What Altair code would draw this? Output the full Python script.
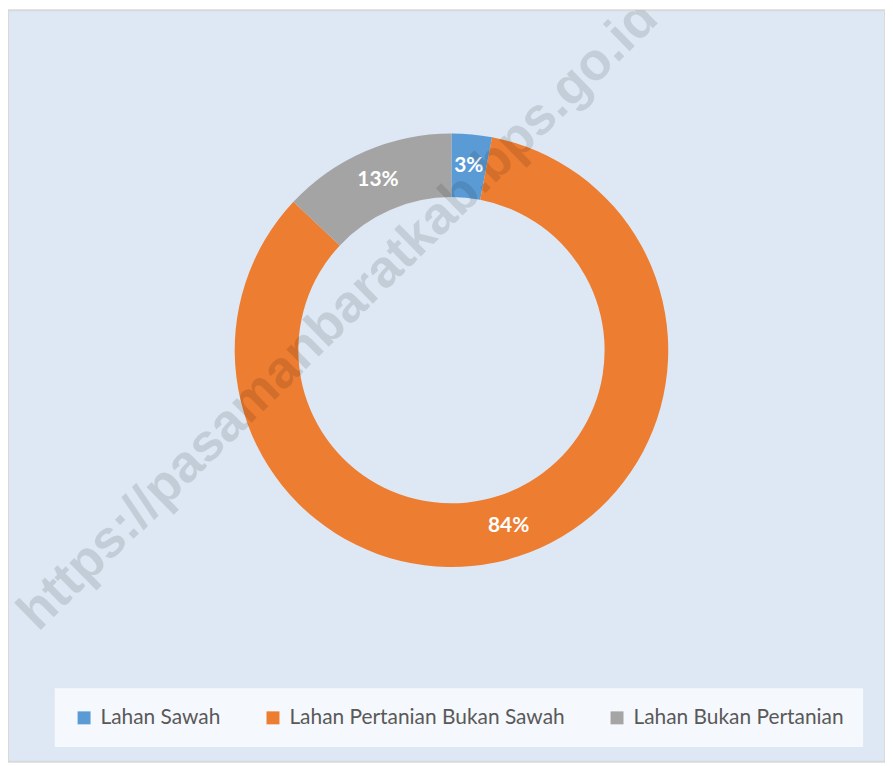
import altair as alt
import pandas as pd

categories = ["Lahan Sawah", "Lahan Pertanian Bukan Sawah", "Lahan Bukan Pertanian"]
shares = [3, 84, 13]
slice_order = [0, 1, 2]
colors = ["#5B9BD5", "#ED7D31", "#A5A5A5"]
watermark_text = ["https://pasamanbaratkab.bps.go.id"]

df = pd.DataFrame({"kategori": categories, "persen": shares, "urutan": slice_order})
df["label"] = df["persen"].astype(str) + "%"

narrow = "Lato, Open Sans, sans-serif"

cx, cy = 446, 342

arcs = alt.Chart(df).mark_arc(outerRadius=218, innerRadius=154).encode(
    theta=alt.Theta("persen:Q", stack=True),
    order=alt.Order("urutan:Q"),
    color=alt.Color(
        "kategori:N",
        scale=alt.Scale(domain=categories, range=colors),
        sort=categories,
        legend=alt.Legend(
            title=None,
            orient="none",
            legendX=47,
            legendY=682,
            direction="horizontal",
            columns=3,
            fillColor="#f5f8fc",
            padding=19,
            symbolType="square",
            symbolSize=170,
            symbolStrokeWidth=0,
            labelFontSize=21,
            labelFont=narrow,
            labelColor="#595959",
            labelLimit=400,
            columnPadding=42,
            labelOffset=6,
        ),
    ),
    x=alt.value(cx),
    y=alt.value(cy),
)

labels = alt.Chart(df).mark_text(
    radius=186, fontSize=21, fontWeight="bold", font=narrow, color="white"
).encode(
    theta=alt.Theta("persen:Q", stack=True),
    order=alt.Order("urutan:Q"),
    text="label:N",
    x=alt.value(cx),
    y=alt.value(cy),
)

wm = alt.Chart(pd.DataFrame({"t": watermark_text})).mark_text(
    angle=315.5, fontSize=53, fontWeight="bold", font="Liberation Sans",
    color="black", opacity=0.11, align="center", baseline="middle", clip=True
).encode(text="t:N", x=alt.value(332), y=alt.value(307))

chart = alt.layer(arcs, labels, wm).properties(
    width=882,
    height=756,
    autosize=alt.AutoSizeParams(type="fit", contains="padding"),
    padding=0,
    background="white",
).configure_view(fill="#dde8f4", stroke="#d9d9d9", strokeWidth=2)

chart.save("out.html", embed_options={"renderer": "svg", "actions": False})
